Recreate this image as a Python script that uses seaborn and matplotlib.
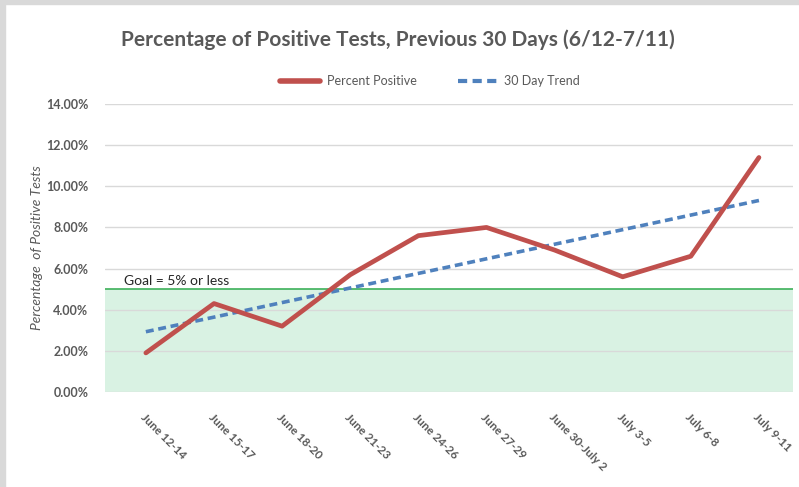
import matplotlib.pyplot as plt
import matplotlib.patches as mpatches
import matplotlib.transforms as mtransforms
from matplotlib.lines import Line2D
import seaborn as sns
import pandas as pd

# Data
periods = [
    "June 12-14", "June 15-17", "June 18-20", "June 21-23", "June 24-26",
    "June 27-29", "June 30-July 2", "July 3-5", "July 6-8", "July 9-11",
]
percent_positive = [1.9, 4.3, 3.2, 5.7, 7.6, 8.0, 6.9, 5.6, 6.6, 11.4]
trend_periods = ["June 12-14", "July 9-11"]
trend_values = [2.93, 9.31]
goal = 5.0
y_ticks = [0, 2, 4, 6, 8, 10, 12, 14]

sns.set_theme(style="white")
plt.rcParams["font.family"] = ["Lato", "DejaVu Sans"]

grey = "#595959"
red = "#C0504D"
blue = "#4F81BD"

df = pd.DataFrame({"period": periods, "pct": percent_positive})
df["x"] = range(len(periods))
df_trend = pd.DataFrame({"x": [periods.index(p) for p in trend_periods], "pct": trend_values})

fig = plt.figure(figsize=(7.99, 4.87), dpi=100)
# grey frame strips at the top and left, like the screenshot
fig.patches.append(mpatches.Rectangle((0, 0), 5 / 799, 1, transform=fig.transFigure, color="#D9D9D9", zorder=0))
fig.patches.append(mpatches.Rectangle((0, 1 - 4 / 487), 1, 4 / 487, transform=fig.transFigure, color="#D9D9D9", zorder=0))

ax = fig.add_axes([105 / 799, 1 - 392 / 487, (793 - 105) / 799, (392 - 104) / 487])

# goal zone
ax.axhspan(0, goal, color="#D9F2E3", zorder=0, lw=0)
ax.axhline(goal, color="#3DB05A", lw=1.2, zorder=1)
ax.text(-0.32, goal + 0.12, "Goal = 5% or less", fontsize=10, color="#262626", va="bottom", ha="left")

sns.lineplot(data=df, x="x", y="pct", ax=ax, color=red, lw=3.4, zorder=4, legend=False)
sns.lineplot(data=df_trend, x="x", y="pct", ax=ax, color=blue, lw=2.6, zorder=3,
             linestyle=(0, (2.2, 1.3)), legend=False)

ax.set_xlim(-0.6, 9.5)
ax.set_ylim(0, 14)
ax.set_yticks(y_ticks)
ax.set_yticklabels([f"{v:.2f}%" for v in y_ticks], fontsize=9, fontweight="bold", color=grey)
ax.yaxis.grid(True, color="#D9D9D9", lw=1)
ax.set_axisbelow(True)
ax.set_xticks(df["x"])
ax.set_xticklabels(periods, rotation=-45, ha="left", va="top", rotation_mode="anchor",
                   fontsize=8.5, fontweight="bold", color=grey)
shift = mtransforms.ScaledTranslation(-9 / 100, 0, fig.dpi_scale_trans)
for lbl in ax.get_xticklabels():
    lbl.set_transform(lbl.get_transform() + shift)
ax.tick_params(axis="x", pad=14, length=0)
ax.tick_params(axis="y", length=0, pad=12)
for s in ax.spines.values():
    s.set_visible(False)
ax.set_xlabel("")
ax.set_ylabel("Percentage  of Positive Tests", fontsize=10, style="italic", color=grey, labelpad=2)

fig.text(398 / 799, 1 - 40 / 487, "Percentage of Positive Tests, Previous 30 Days (6/12-7/11)",
         ha="center", va="center", fontsize=15, fontweight="bold", color=grey)

handles = [
    Line2D([], [], color=red, lw=4),
    Line2D([], [], color=blue, lw=3, linestyle=(0, (2.2, 1.3))),
]
fig.legend(handles, ["Percent Positive", "30 Day Trend"], loc="center", bbox_to_anchor=(430 / 799, 1 - 81 / 487),
           ncol=2, frameon=False, fontsize=9, handlelength=3.2, columnspacing=3.3, handletextpad=0.5,
           labelcolor=grey)

fig.savefig("out.png", dpi=100)
